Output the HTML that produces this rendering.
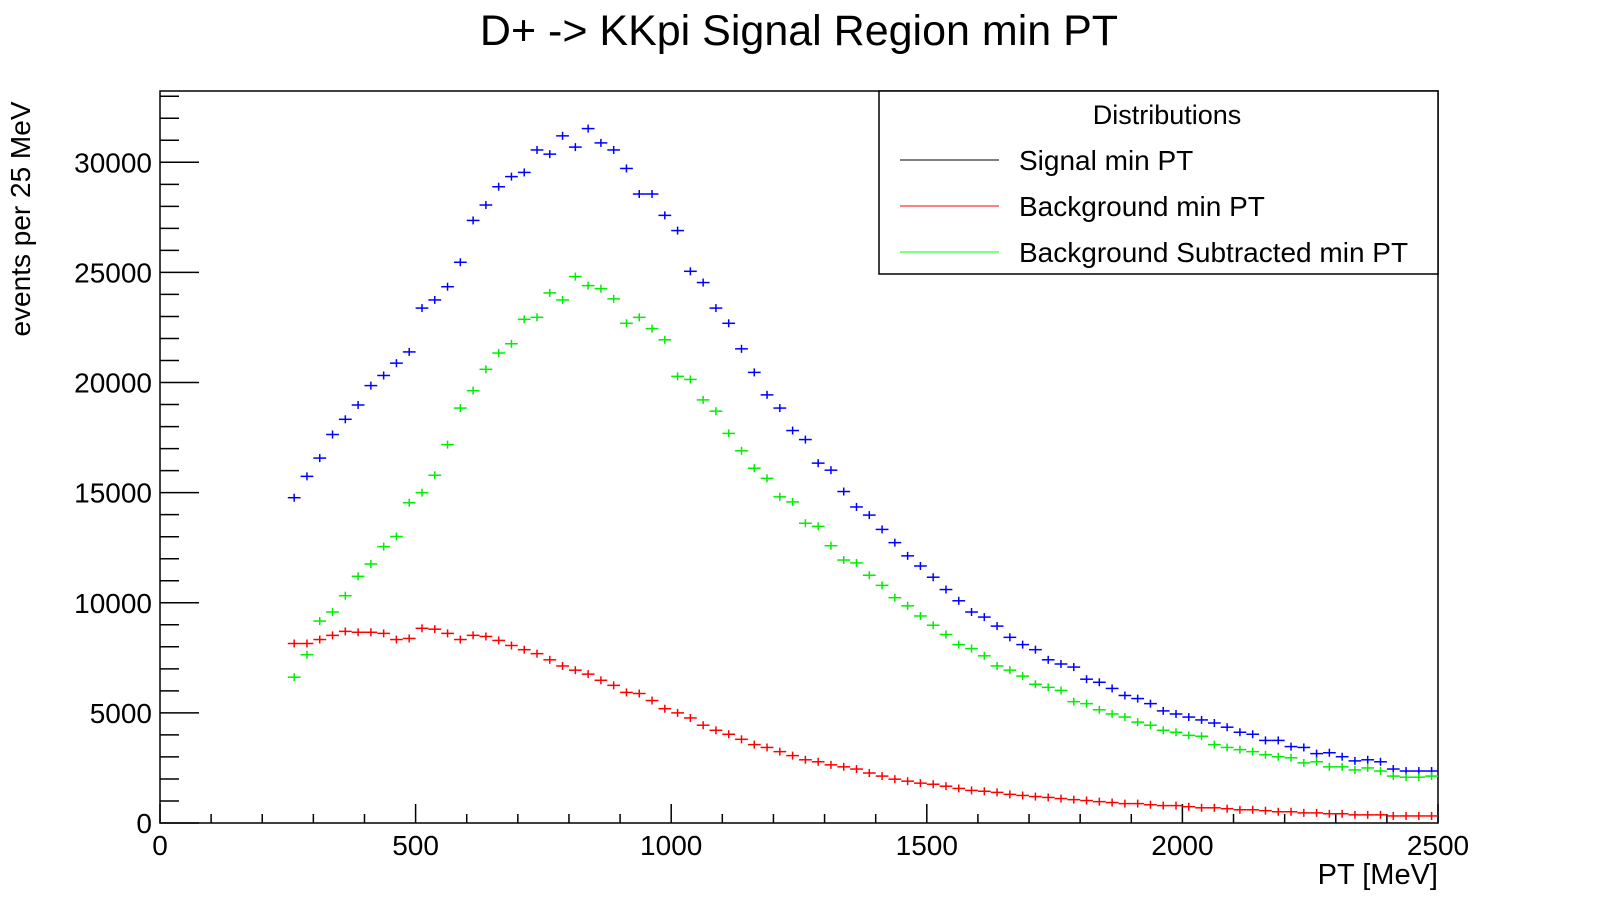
<!DOCTYPE html>
<html><head><meta charset="utf-8"><style>
html,body{margin:0;padding:0;background:#fff;}
svg{display:block;font-family:"Liberation Sans",sans-serif;}
</style></head><body>
<svg id="chart" width="1598" height="915" viewBox="0 0 1598 915" xmlns="http://www.w3.org/2000/svg">
<text x="799" y="45" font-size="43" text-anchor="middle">D+ -&gt; KKpi Signal Region min PT</text>
<rect x="160" y="91" width="1278" height="732" fill="none" stroke="#000" stroke-width="1.5"/>
<g id="axes"></g>
<g id="series"></g>
<text transform="translate(30,219) rotate(-90)" font-size="28" text-anchor="middle">events per 25 MeV</text>
<text x="1438" y="884" font-size="29" text-anchor="end">PT [MeV]</text>
<g>
<rect x="879" y="91" width="559" height="183" fill="#fff" stroke="#000" stroke-width="1.5"/>
<text x="1167" y="124" font-size="27" text-anchor="middle">Distributions</text>
<line x1="900" y1="160" x2="999" y2="160" stroke="#000"/>
<text x="1019" y="170" font-size="28">Signal min PT</text>
<line x1="900" y1="206" x2="999" y2="206" stroke="#f00"/>
<text x="1019" y="216" font-size="28">Background min PT</text>
<line x1="900" y1="252" x2="999" y2="252" stroke="#0f0"/>
<text x="1019" y="262" font-size="28">Background Subtracted min PT</text>
</g>
</svg>
<script>
const binStart = 250;
const binWidth = 25;
const signalValues = [14770,15740,16570,17640,18330,18980,19860,20320,20880,21390,23380,23750,24350,25460,27360,28060,28890,29350,29540,30560,30370,31200,30690,31530,30880,30560,29720,28560,28560,27590,26900,25050,24540,23380,22690,21530,20460,19440,18840,17820,17410,16340,16020,15050,14350,13980,13330,12730,12130,11670,11160,10600,10090,9580,9350,8940,8430,8100,7870,7410,7220,7080,6530,6390,6110,5790,5650,5420,5090,4950,4810,4680,4540,4350,4120,4030,3750,3750,3470,3430,3150,3190,3010,2820,2870,2780,2450,2360,2360,2360];
const subtractedValues = [6620,7640,9170,9580,10320,11200,11760,12550,13010,14540,15000,15790,17180,18840,19630,20600,21340,21760,22870,22960,24070,23750,24810,24400,24260,23800,22690,22960,22450,21940,20280,20140,19210,18700,17690,16900,16110,15650,14810,14580,13610,13470,12590,11940,11810,11250,10790,10230,9860,9400,8980,8560,8100,7920,7590,7130,6940,6670,6300,6160,6020,5510,5420,5140,4950,4810,4580,4440,4210,4120,3980,3940,3560,3430,3330,3240,3100,3010,2960,2730,2780,2550,2550,2410,2500,2360,2130,2080,2080,2130];
const backgroundValues = [8150,8150,8330,8520,8700,8660,8660,8610,8330,8380,8840,8800,8610,8330,8520,8470,8290,8060,7870,7690,7410,7130,6940,6760,6480,6250,5930,5880,5560,5190,5000,4770,4440,4210,4030,3800,3560,3430,3240,3060,2870,2780,2640,2550,2450,2270,2130,1990,1900,1810,1760,1670,1570,1480,1440,1390,1300,1250,1200,1160,1110,1060,1020,970,930,880,880,830,790,790,740,690,690,650,600,600,560,510,510,460,460,420,420,370,370,370,320,320,320,320];
const xTickLabels = ["0","500","1000","1500","2000","2500"];
const yTickLabels = ["0","5000","10000","15000","20000","25000","30000"];

const NS = "http://www.w3.org/2000/svg";
const X0=160, X1=1438, Y0=823, Y1=91, XMAX=2500, YMAX=33237;
function xs(v){return X0+(v/XMAX)*(X1-X0);}
function ys(v){return Y0-(v/YMAX)*(Y0-Y1);}
function mk(tag, attrs, parent){const e=document.createElementNS(NS,tag);for(const k in attrs)e.setAttribute(k,attrs[k]);parent.appendChild(e);return e;}
const axes=document.getElementById('axes');
for(let v=0; v<=XMAX; v+=100){
  const major = v%500===0;
  const t=mk('line',{x1:xs(v),x2:xs(v),y1:Y0,y2:Y0-(major?19:9),stroke:'#000','stroke-width':1.5},axes);
  
  
}
xTickLabels.forEach(l=>{
  const t=mk('text',{x:xs(+l),y:855,'font-size':28,'text-anchor':'middle'},axes);
  t.textContent=l;
  
  
});
for(let v=0; v<=YMAX; v+=1000){
  const major = v%5000===0;
  const t=mk('line',{x1:X0,x2:X0+(major?39:19),y1:ys(v),y2:ys(v),stroke:'#000','stroke-width':1.5},axes);
  
  
}
yTickLabels.forEach(l=>{
  const t=mk('text',{x:152,y:ys(+l)+10,'font-size':28,'text-anchor':'end'},axes);
  t.textContent=l;
  
  
});
const series=document.getElementById('series');
function draw(vals,color,name){
  const g=mk('g',{},series);
  
  
  vals.forEach((v,i)=>{
    const lo=binStart+i*binWidth, c=lo+binWidth/2, y=ys(v);
    mk('line',{x1:xs(lo),x2:xs(lo+binWidth),y1:y,y2:y,stroke:color,'stroke-width':1.5},g);
    const e=mk('line',{x1:xs(c),x2:xs(c),y1:y-4,y2:y+4,stroke:color,'stroke-width':1.5},g);
    
    
  });
}
draw(signalValues,'#0000ff','signal-series');
draw(subtractedValues,'#00ee00','subtracted-series');
draw(backgroundValues,'#ff0000','background-series');
</script>
</body></html>
